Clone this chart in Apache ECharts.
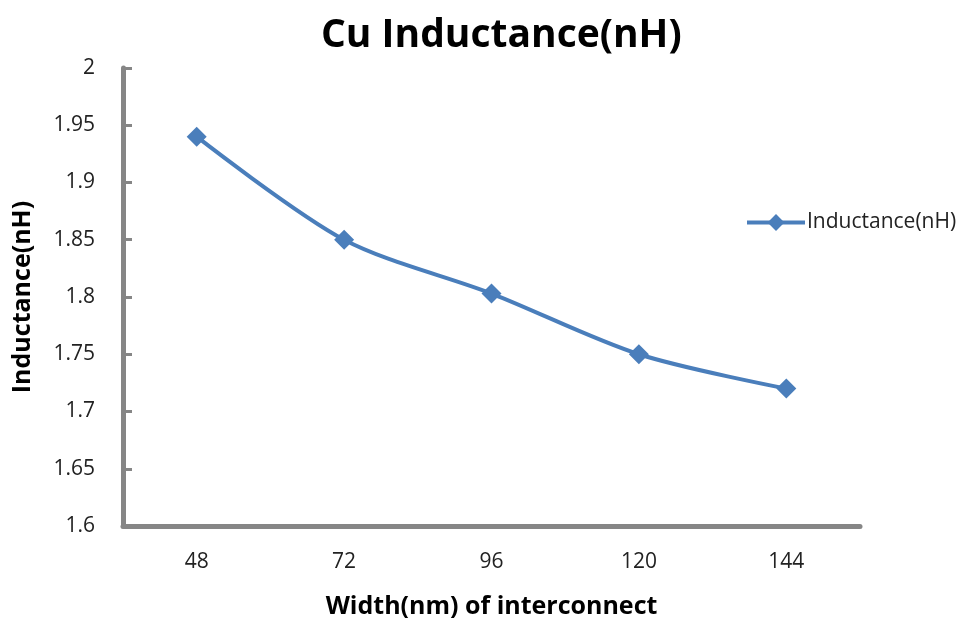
<!DOCTYPE html>
<html>
<head>
<meta charset="utf-8">
<script src="https://cdn.jsdelivr.net/npm/echarts@6/dist/echarts.min.js"></script>
<style>
  html, body { margin: 0; padding: 0; background: #fff; }
  #chart { width: 971px; height: 622px; }
</style>
</head>
<body>
<div id="chart"></div>
<script>
const widths = ['48', '72', '96', '120', '144'];
const inductance = [1.94, 1.85, 1.803, 1.75, 1.72];

const chart = echarts.init(document.getElementById('chart'));
const font = '"Open Sans", "Noto Sans", sans-serif';
const axisGray = '#868686';

chart.setOption({
  animation: false,
  title: {
    text: 'Cu Inductance(nH)',
    left: 316,
    top: 11,
    textStyle: { fontFamily: font, fontSize: 39, fontWeight: 'bold', color: '#000' }
  },
  legend: {
    data: ['Inductance(nH)'],
    left: 740,
    top: 207,
    itemWidth: 58,
    itemHeight: 21,
    itemGap: 0,
    lineStyle: { width: 4 },
    textStyle: { fontFamily: font, fontSize: 21, color: '#222', padding: [0, 0, 0, -3] }
  },
  grid: { left: 123, right: 111, top: 68, bottom: 96, outerBoundsMode: 'none', containLabel: false },
  xAxis: {
    type: 'category',
    data: widths,
    boundaryGap: true,
    name: 'Width(nm) of interconnect',
    nameLocation: 'middle',
    nameGap: 68,
    nameTextStyle: { fontFamily: font, fontSize: 25, fontWeight: 'bold', color: '#000' },
    axisLine: { lineStyle: { color: axisGray, width: 5 } },
    axisTick: { inside: true, length: 9, lineStyle: { color: axisGray, width: 3 } },
    axisLabel: { fontFamily: font, fontSize: 21, color: '#222', margin: 26 }
  },
  yAxis: {
    type: 'value',
    min: 1.6,
    max: 2,
    interval: 0.05,
    name: 'Inductance(nH)',
    nameLocation: 'middle',
    nameGap: 88,
    nameTextStyle: { fontFamily: font, fontSize: 25, fontWeight: 'bold', color: '#000' },
    axisLine: { show: true, lineStyle: { color: axisGray, width: 5 } },
    axisTick: { show: true, inside: true, length: 9, lineStyle: { color: axisGray, width: 3 } },
    splitLine: { show: false },
    axisLabel: {
      fontFamily: font, fontSize: 21, color: '#222', margin: 28,
      formatter: v => String(+v.toFixed(2))
    }
  },
  series: [{
    name: 'Inductance(nH)',
    type: 'line',
    data: inductance,
    smooth: 0.3,
    symbol: 'diamond',
    symbolSize: 20,
    lineStyle: { color: '#4a7ebb', width: 4 },
    itemStyle: { color: '#4a7ebb' }
  }]
});
</script>
</body>
</html>
